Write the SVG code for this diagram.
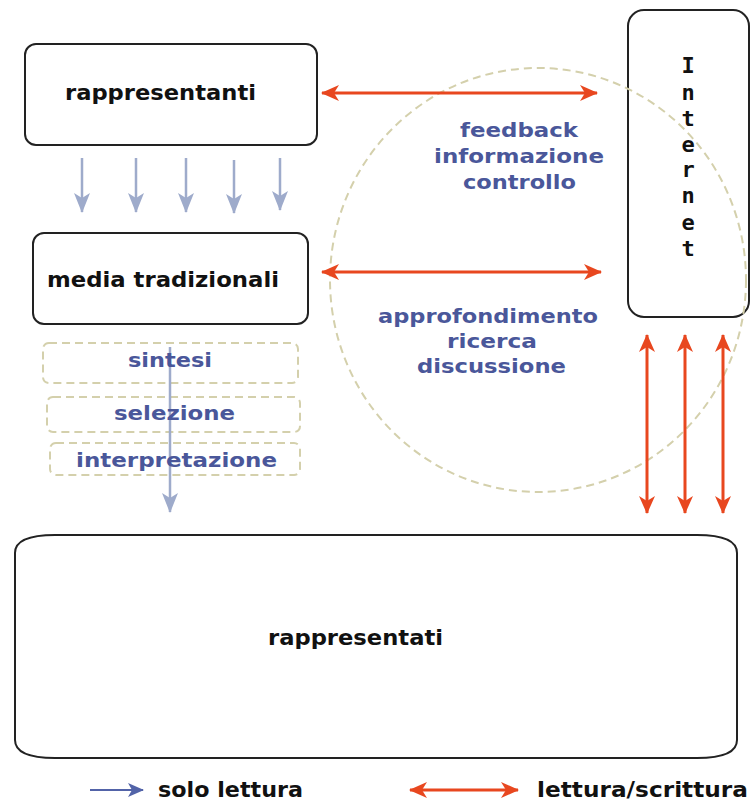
<svg xmlns="http://www.w3.org/2000/svg" width="751" height="803" viewBox="0 0 751 803">
<style>
.box{fill:#fff;stroke:#222;stroke-width:2}
.dash{fill:none;stroke:#d4d0ac;stroke-width:2;stroke-dasharray:8,5}
.t{font-family:"DejaVu Sans",Verdana,sans-serif;font-weight:bold;font-size:22px;fill:#111}
.m{font-family:"DejaVu Sans Mono","Liberation Mono",monospace;font-weight:bold;font-size:22px;fill:#111}
.b{font-family:"DejaVu Sans",Verdana,sans-serif;font-weight:bold;font-size:20px;fill:#4a579a}
.red{stroke:#e8471f;stroke-width:3;fill:none;marker-start:url(#rh);marker-end:url(#rh)}
.lb{stroke:#9eabcb;stroke-width:2.5;fill:none;marker-end:url(#bh)}
</style>
<defs>
<marker id="rh" viewBox="0 0 18 18" refX="17" refY="9" markerWidth="18" markerHeight="18" markerUnits="userSpaceOnUse" orient="auto-start-reverse">
<path d="M0,1 L18,9 L0,17 L5,9 z" fill="#e8471f"/>
</marker>
<marker id="bh" viewBox="0 0 20 18" refX="19" refY="9" markerWidth="20" markerHeight="18" markerUnits="userSpaceOnUse" orient="auto">
<path d="M0,1 L20,9 L0,17 L5,9 z" fill="#9eabcb"/>
</marker>
<marker id="dbh" viewBox="0 0 16 16" refX="15" refY="8" markerWidth="16" markerHeight="16" markerUnits="userSpaceOnUse" orient="auto">
<path d="M0,1 L16,8 L0,15 L4,8 z" fill="#5263a8"/>
</marker>
</defs>

<g id="rappresentanti">
<rect x="25" y="44" width="292" height="101" rx="11" ry="11" class="box"/>
<text x="65" y="100" class="t" textLength="191" lengthAdjust="spacingAndGlyphs">rappresentanti</text>
</g>

<g id="media">
<rect x="33" y="233" width="275" height="91" rx="11" ry="11" class="box"/>
<text x="47" y="287" class="t" textLength="232" lengthAdjust="spacingAndGlyphs">media tradizionali</text>
</g>

<g id="filtri">
<rect x="43" y="343" width="255" height="40" rx="6" class="dash"/>
<rect x="47" y="397" width="253" height="35" rx="6" class="dash"/>
<rect x="50" y="443" width="250" height="32" rx="6" class="dash"/>
</g>

<g id="internet">
<rect x="628" y="10" width="121" height="307" rx="16" ry="16" class="box"/>
</g>

<ellipse cx="538" cy="280" rx="208" ry="212" class="dash" stroke-dasharray="12,7"/>

<g id="internet-label" class="m" text-anchor="middle">
<text x="688" y="73">I</text>
<text x="688" y="100">n</text>
<text x="688" y="126">t</text>
<text x="688" y="152">e</text>
<text x="688" y="177">r</text>
<text x="688" y="203">n</text>
<text x="688" y="230">e</text>
<text x="688" y="256">t</text>
</g>

<g id="rappresentati">
<path d="M55,535 H697 Q737,535 737,553 V740 Q737,758 697,758 H55 Q15,758 15,740 V553 Q15,535 55,535 Z" class="box"/>
<text x="268" y="645" class="t" textLength="175" lengthAdjust="spacingAndGlyphs">rappresentati</text>
</g>

<g id="connectors">
<line x1="82" y1="158" x2="82" y2="212" class="lb"/>
<line x1="136" y1="158" x2="136" y2="212" class="lb"/>
<line x1="186" y1="158" x2="186" y2="212" class="lb"/>
<line x1="234" y1="160" x2="234" y2="213" class="lb"/>
<line x1="280" y1="158" x2="280" y2="210" class="lb"/>
<line x1="170" y1="347" x2="170" y2="512" class="lb"/>
<line x1="322" y1="93" x2="597" y2="93" class="red"/>
<line x1="322" y1="272" x2="601" y2="272" class="red"/>
<line x1="647" y1="335" x2="647" y2="513" class="red"/>
<line x1="685" y1="335" x2="685" y2="513" class="red"/>
<line x1="723" y1="335" x2="723" y2="513" class="red"/>
</g>

<g id="labels">
<text x="128" y="367" class="b" textLength="84" lengthAdjust="spacingAndGlyphs">sintesi</text>
<text x="114" y="420" class="b" textLength="121" lengthAdjust="spacingAndGlyphs">selezione</text>
<text x="76" y="467" class="b" textLength="201" lengthAdjust="spacingAndGlyphs">interpretazione</text>
<text x="460" y="137" class="b" textLength="118" lengthAdjust="spacingAndGlyphs">feedback</text>
<text x="434" y="163" class="b" textLength="170" lengthAdjust="spacingAndGlyphs">informazione</text>
<text x="463" y="189" class="b" textLength="113" lengthAdjust="spacingAndGlyphs">controllo</text>
<text x="378" y="323" class="b" textLength="220" lengthAdjust="spacingAndGlyphs">approfondimento</text>
<text x="447" y="348" class="b" textLength="90" lengthAdjust="spacingAndGlyphs">ricerca</text>
<text x="417" y="373" class="b" textLength="149" lengthAdjust="spacingAndGlyphs">discussione</text>
</g>

<g id="legend">
<line x1="90" y1="790" x2="143" y2="790" stroke="#5263a8" stroke-width="2" marker-end="url(#dbh)"/>
<text x="158" y="797" class="t" textLength="145" lengthAdjust="spacingAndGlyphs">solo lettura</text>
<line x1="410" y1="790" x2="518" y2="790" class="red"/>
<text x="537" y="797" class="t" textLength="211" lengthAdjust="spacingAndGlyphs">lettura/scrittura</text>
</g>
</svg>
